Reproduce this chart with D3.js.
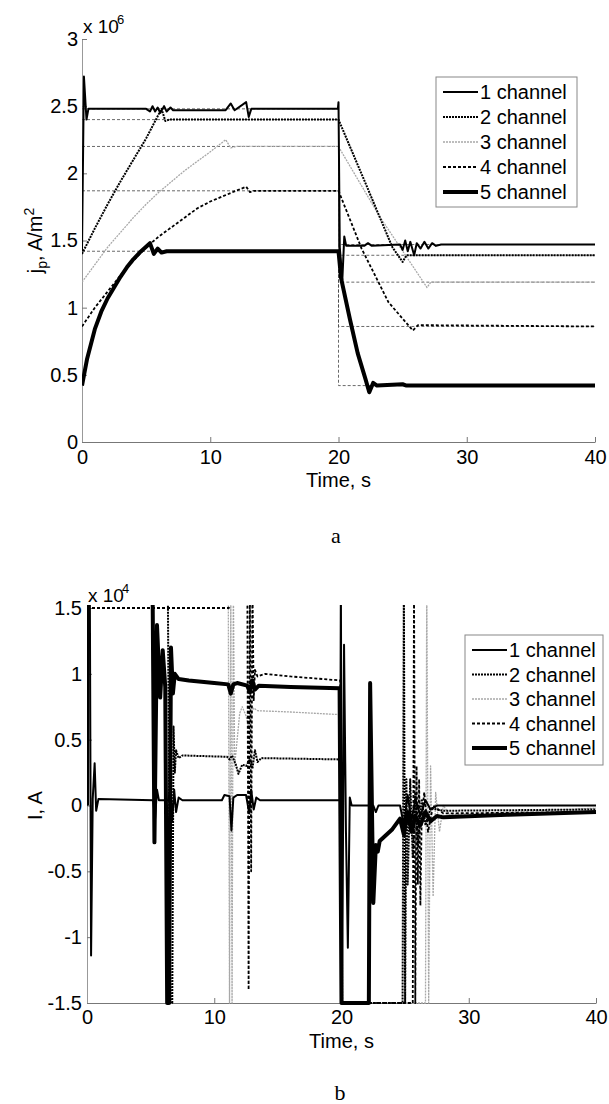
<!DOCTYPE html>
<html lang="en">
<head>
	<meta charset="utf-8">
	<title>Current density and current per channel</title>
	<script src="https://cdn.jsdelivr.net/npm/d3@7"></script>
	<style>
		body { margin: 0; background: #fff; }
		svg { display: block; }
	</style>
</head>
<body>
<script type="text/javascript">

	// Panel a: j_p (x 10^6 A/m^2), points are [time s, value]
	var jpCh1 = [[0,1.42],[0.15,2.72],[0.35,2.40],[0.5,2.48],[5.0,2.48],[5.3,2.46],[5.5,2.50],[5.7,2.46],[5.9,2.49],[6.1,2.45],[6.4,2.50],[6.6,2.46],[6.9,2.49],[7.1,2.47],[11.2,2.47],[11.6,2.52],[11.9,2.47],[12.8,2.53],[13.0,2.42],[13.2,2.48],[19.95,2.48],[20.0,2.53],[20.1,1.45],[20.3,1.21],[20.45,1.53],[20.6,1.46],[22.0,1.46],[22.3,1.48],[22.6,1.46],[24.8,1.47],[25.0,1.43],[25.2,1.50],[25.4,1.42],[25.6,1.49],[25.9,1.39],[26.1,1.48],[26.4,1.44],[26.7,1.49],[27.0,1.44],[27.3,1.48],[27.6,1.46],[28,1.47],[40,1.47]];
	var jpCh2 = [[0,1.40],[1,1.59],[2,1.77],[3,1.94],[4,2.10],[5,2.26],[6.2,2.48],[6.5,2.39],[6.8,2.40],[20,2.40],[22,1.95],[24.2,1.45],[25.0,1.34],[25.3,1.39],[40,1.39]];
	var jpCh3 = [[0,1.19],[1,1.32],[2,1.45],[3,1.56],[4,1.67],[5,1.77],[6,1.86],[7,1.94],[8,2.02],[9,2.09],[10,2.16],[11.2,2.25],[11.6,2.19],[12,2.20],[20,2.20],[20.3,2.15],[23.2,1.68],[26.9,1.15],[27.2,1.19],[40,1.19]];
	var jpCh4 = [[0,0.86],[1,1.00],[2,1.12],[3,1.24],[4,1.35],[5,1.45],[6,1.53],[7,1.60],[8,1.67],[9,1.74],[10,1.79],[11,1.83],[12,1.87],[12.8,1.90],[13.1,1.86],[13.4,1.87],[20,1.87],[21.8,1.44],[23.9,1.04],[25.8,0.83],[26.2,0.87],[40,0.86]];
	var jpCh5 = [[0,0.42],[0.4,0.62],[1,0.84],[1.5,0.97],[2,1.07],[2.5,1.15],[3,1.23],[3.5,1.30],[4,1.36],[4.5,1.41],[5.3,1.48],[5.6,1.40],[5.9,1.44],[6.2,1.41],[6.6,1.42],[20,1.42],[20.2,1.22],[20.9,0.91],[21.5,0.66],[22.1,0.47],[22.4,0.37],[22.7,0.44],[23,0.42],[25,0.43],[25.3,0.42],[40,0.42]];

	// Reference levels of each channel before and after the switch
	var jpRefBefore = [2.48, 2.40, 2.20, 1.87, 1.42];
	var jpRefAfter = [1.47, 1.39, 1.19, 0.86, 0.42];
	var refSwitch = 20;

	// Panel b: I (x 10^4 A), points are [time s, value]
	// 1.5 / -1.5 = trace lying on the plot edge, 1.7 = off scale (clipped away)
	var iCh1 = [[0,0.0],[0.05,1.7],[0.22,1.7],[0.32,-1.14],[0.45,0.05],[0.6,0.32],[0.72,-0.04],[0.9,0.05],[5.2,0.04],[5.35,-0.1],[5.5,0.12],[5.65,0.04],[6.4,0.04],[6.55,0.14],[6.7,-0.12],[6.85,0.12],[7.0,-0.05],[7.2,0.06],[7.5,0.04],[10.6,0.04],[10.8,0.08],[11.2,0.07],[11.35,-0.19],[11.5,0.06],[11.8,0.08],[12.5,0.08],[12.75,-0.06],[12.9,0.12],[13.1,-0.03],[13.3,0.06],[13.6,0.04],[19.9,0.04],[19.95,1.7],[20.05,-1.5],[20.2,1.22],[20.35,-0.2],[20.5,-1.08],[20.65,0.06],[20.8,0.0],[22.5,0.0],[22.7,-0.05],[22.9,0.0],[24.6,0.0],[24.9,-0.15],[25.2,0.08],[25.5,-0.12],[25.8,0.05],[26.2,-0.08],[26.6,0.04],[27,-0.03],[27.5,0.0],[40,0.0]];
	var iCh2 = [[0,1.7],[6.35,1.7],[6.55,-1.5],[6.7,-1.5],[6.8,0.6],[6.9,0.25],[7.0,0.42],[7.2,0.36],[7.5,0.38],[11.0,0.37],[11.2,0.35],[11.4,0.38],[11.7,0.31],[11.9,0.24],[12.2,0.31],[12.5,0.30],[12.8,0.35],[13.0,0.28],[13.2,0.42],[13.4,0.33],[13.7,0.36],[19.9,0.35],[20.0,-1.5],[24.8,-1.5],[24.9,1.7],[25.0,-1.5],[25.1,0.2],[25.2,-0.6],[25.4,0.2],[25.6,-0.4],[25.8,0.1],[26.0,-0.3],[26.3,0.05],[26.6,-0.15],[27,-0.02],[28,-0.04],[40,-0.03]];
	var iCh3 = [[0,1.7],[11.1,1.7],[11.2,-1.5],[11.3,1.7],[11.4,-1.5],[11.5,1.7],[11.6,0.3],[11.8,0.5],[12.0,0.70],[12.2,0.75],[12.5,0.68],[12.7,0.60],[12.9,0.70],[13.1,0.74],[13.4,0.72],[16,0.71],[19.9,0.69],[20.1,-1.5],[26.6,-1.5],[26.7,1.7],[26.85,-1.5],[27.0,0.3],[27.2,-0.69],[27.4,0.1],[27.7,-0.2],[28,0.0],[28.5,-0.07],[40,-0.02]];
	var iCh4 = [[0,1.5],[11.15,1.5],[11.2,1.7],[12.6,1.7],[12.7,-1.4],[12.8,1.7],[12.9,-0.5],[13.0,1.7],[13.1,0.8],[13.2,1.03],[13.4,0.98],[14,1.0],[16,0.98],[19.9,0.95],[20.0,-1.5],[25.6,-1.5],[25.7,1.7],[25.8,-1.5],[25.9,0.3],[26.0,-0.6],[26.1,0.2],[26.2,-0.76],[26.3,-0.1],[26.5,0.1],[26.8,-0.2],[27.2,0.0],[28,-0.06],[40,-0.05]];
	var iCh5 = [[0,0.0],[0.05,1.7],[5.15,1.7],[5.3,-0.28],[5.5,1.37],[5.75,0.82],[5.95,1.18],[6.15,0.9],[6.3,-1.5],[6.45,-1.5],[6.6,1.2],[6.75,0.85],[6.9,1.0],[7.2,0.96],[8,0.95],[10,0.93],[11.1,0.92],[11.3,0.85],[11.5,0.92],[11.8,0.93],[12.6,0.91],[12.8,0.86],[13.0,0.95],[13.2,0.88],[13.5,0.91],[16,0.90],[19.85,0.89],[20.0,-1.5],[22.15,-1.5],[22.25,0.93],[22.5,-0.74],[22.7,-0.30],[22.85,-0.35],[23.0,-0.27],[24.0,-0.18],[24.6,-0.10],[24.9,-0.22],[25.2,-0.05],[25.5,-0.20],[25.8,-0.08],[26.2,-0.15],[26.6,-0.05],[27,-0.12],[27.5,-0.08],[28,-0.09],[33,-0.07],[40,-0.05]];

	// Labels and ticks
	var channelNames = ["1 channel", "2 channel", "3 channel", "4 channel", "5 channel"];
	var timeTicks = [0, 10, 20, 30, 40];
	var jpTicks = [0, 0.5, 1, 1.5, 2, 2.5, 3];
	var jpTickLabels = ["0", "0.5", "1", "1.5", "2", "2.5", "3"];
	var iTicks = [-1.5, -1, -0.5, 0, 0.5, 1, 1.5];
	var iTickLabels = ["-1.5", "-1", "-0.5", "0", "0.5", "1", "1.5"];

	// Line style of each channel
	var chStyle = [
		{width: 2, dash: null, color: "#000"},
		{width: 2, dash: "2,1", color: "#000"},
		{width: 1.3, dash: "2,1", color: "#a8a8a8"},
		{width: 1.8, dash: "3,2", color: "#000"},
		{width: 4, dash: null, color: "#000"}
	];

	var fontSans = "'Liberation Sans', Arial, sans-serif";

	var svg = d3.select("body")
				.append("svg")
				.attr("width", 609)
				.attr("height", 1104);

	svg.append("rect")
		.attr("width", 609)
		.attr("height", 1104)
		.attr("fill", "#fff");

	// Draw one panel
	function drawPanel(p){

		var xScale = d3.scaleLinear()
						.domain([0, 40])
						.range([p.left, p.right]);

		var yScale = d3.scaleLinear()
						.domain(p.yDomain)
						.range([p.bottom, p.top]);

		var g = svg.append("g");

		// x axis
		var xAxis = d3.axisBottom(xScale)
						.tickValues(timeTicks)
						.tickFormat(d3.format("d"))
						.tickSizeInner(-5)
						.tickSizeOuter(0)
						.tickPadding(p.xPad);

		var gx = g.append("g")
					.attr("transform", "translate(0," + p.bottom + ")")
					.call(xAxis);

		// y axis
		var yAxis = d3.axisLeft(yScale)
						.tickValues(p.yTicks)
						.tickFormat(function(d, i){ return p.yTickLabels[i]; })
						.tickSizeInner(-5)
						.tickSizeOuter(0)
						.tickPadding(p.yPad);

		var gy = g.append("g")
					.attr("transform", "translate(" + p.left + ",0)")
					.call(yAxis);

		[gx, gy].forEach(function(ax, k){
			ax.selectAll("text")
				.attr("font-family", fontSans)
				.attr("font-size", 20)
				.attr("fill", "#000");
			ax.select(".domain").attr("stroke", k == 0 ? "#777" : "#999");
			ax.selectAll(".tick line").attr("stroke", "#777");
		});

		// exponent label
		g.append("text")
			.attr("x", p.left + 1)
			.attr("y", p.top - 6)
			.attr("font-family", fontSans)
			.attr("font-size", 19)
			.text("x 10");
		g.append("text")
			.attr("x", p.left + 35)
			.attr("y", p.top - 15)
			.attr("font-family", fontSans)
			.attr("font-size", 13)
			.text(p.exponent);

		// axis titles
		g.append("text")
			.attr("x", (p.left + p.right) / 2)
			.attr("y", p.bottom + 45)
			.attr("text-anchor", "middle")
			.attr("font-family", fontSans)
			.attr("font-size", 20)
			.text("Time, s");

		var yt = g.append("text")
					.attr("transform", "translate(42," + ((p.top + p.bottom) / 2) + ") rotate(-90)")
					.attr("text-anchor", "middle")
					.attr("font-family", fontSans)
					.attr("font-size", 20);
		p.yTitle.forEach(function(part){
			yt.append("tspan")
				.attr("font-size", part.size)
				.attr("dy", part.dy)
				.text(part.text);
		});

		// caption
		g.append("text")
			.attr("x", p.capX)
			.attr("y", p.capY)
			.attr("text-anchor", "middle")
			.attr("font-family", "'Liberation Serif', 'Times New Roman', serif")
			.attr("font-size", 22)
			.text(p.caption);

		// clip the traces to the plot area
		var clipId = "clip" + p.caption;
		g.append("clipPath")
			.attr("id", clipId)
			.append("rect")
			.attr("x", p.left)
			.attr("y", p.top - 3)
			.attr("width", p.right - p.left + 2)
			.attr("height", p.bottom - p.top + 6);

		var plot = g.append("g")
					.attr("clip-path", "url(#" + clipId + ")");

		var line = d3.line()
					.x(function(d){ return xScale(d[0]); })
					.y(function(d){ return yScale(d[1]); });

		// thin dashed reference steps
		if(p.refBefore){
			p.refBefore.forEach(function(a, i){
				var b = p.refAfter[i];
				plot.append("path")
					.attr("d", line([[0, a], [refSwitch, a], [refSwitch, b], [40, b]]))
					.attr("fill", "none")
					.attr("stroke", "#444")
					.attr("stroke-width", 0.8)
					.attr("stroke-dasharray", "3,2");
			});
		}

		// channel traces
		var order = [2, 3, 1, 0, 4];
		order.forEach(function(i){
			var s = chStyle[i];
			plot.append("path")
				.attr("d", line(p.series[i]))
				.attr("fill", "none")
				.attr("stroke", s.color)
				.attr("stroke-width", s.width)
				.attr("stroke-dasharray", s.dash)
				.attr("stroke-linejoin", "round");
		});

		// legend
		var lg = g.append("g");
		lg.append("rect")
			.attr("x", p.legX)
			.attr("y", p.legY)
			.attr("width", p.legW)
			.attr("height", 130)
			.attr("fill", "#fff")
			.attr("stroke", "#888")
			.attr("stroke-width", 1);

		channelNames.forEach(function(name, i){
			var cy = p.legY + 15 + i * p.legStep;
			var s = chStyle[i];
			lg.append("line")
				.attr("x1", p.legX + 7)
				.attr("x2", p.legX + 42)
				.attr("y1", cy)
				.attr("y2", cy)
				.attr("stroke", s.color)
				.attr("stroke-width", s.width)
				.attr("stroke-dasharray", s.dash);
			lg.append("text")
				.attr("x", p.legX + 44)
				.attr("y", cy + 7)
				.attr("font-family", fontSans)
				.attr("font-size", 20)
				.text(name);
		});
	}

	drawPanel({
		left: 82, right: 595, top: 39, bottom: 442,
		yDomain: [0, 3], yTicks: jpTicks, yTickLabels: jpTickLabels,
		xPad: 8, yPad: 4,
		exponent: "6",
		yTitle: [
			{text: "j", size: 20, dy: 0},
			{text: "p", size: 14, dy: 5},
			{text: ", A/m", size: 20, dy: -5},
			{text: "2", size: 14, dy: -8}
		],
		series: [jpCh1, jpCh2, jpCh3, jpCh4, jpCh5],
		refBefore: jpRefBefore, refAfter: jpRefAfter,
		legX: 436, legY: 77, legW: 141, legStep: 25,
		caption: "a", capX: 336, capY: 543
	});

	drawPanel({
		left: 87, right: 596, top: 608, bottom: 1003,
		yDomain: [-1.5, 1.5], yTicks: iTicks, yTickLabels: iTickLabels,
		xPad: 7, yPad: 5,
		exponent: "4",
		yTitle: [
			{text: "I, A", size: 20, dy: 0}
		],
		series: [iCh1, iCh2, iCh3, iCh4, iCh5],
		refBefore: null, refAfter: null,
		legX: 465, legY: 635, legW: 138, legStep: 24.5,
		caption: "b", capX: 340, capY: 1100
	});

</script>
</body>
</html>
